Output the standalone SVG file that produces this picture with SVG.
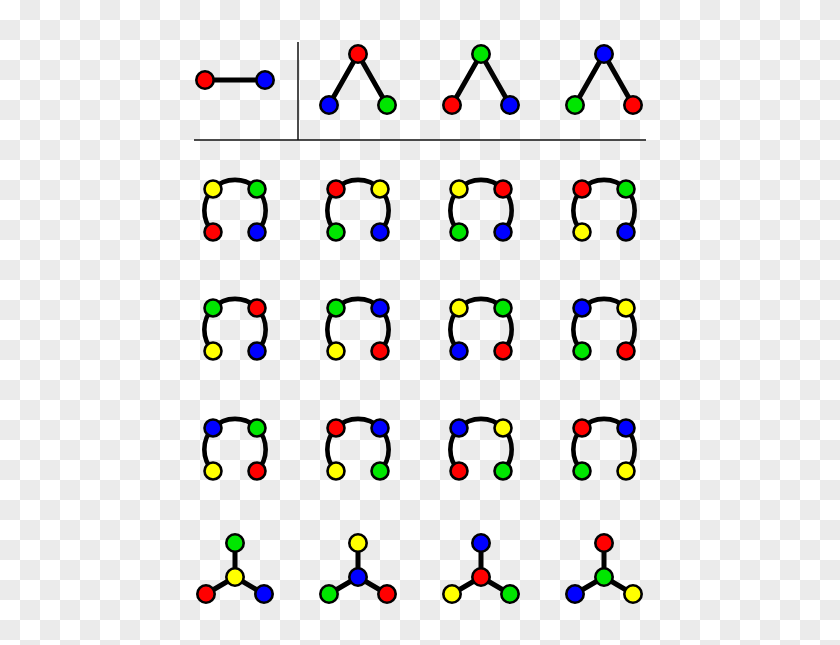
<svg xmlns="http://www.w3.org/2000/svg" xmlns:xlink="http://www.w3.org/1999/xlink" width="840" height="645" viewBox="0 0 840 645">
<defs>
<pattern id="checker" width="40" height="40" patternUnits="userSpaceOnUse">
<rect width="40" height="40" fill="#ffffff"/>
<rect x="20" y="0" width="20" height="20" fill="#ebebeb"/>
<rect x="0" y="20" width="20" height="20" fill="#ebebeb"/>
</pattern>
<path id="ring" d="M -22 21.5 A 31 31 0 0 1 -22 -21.5 A 31 31 0 0 1 22 -21.5 A 31 31 0 0 1 22 21.5"/>
</defs>
<style>
.n{stroke:#000;stroke-width:2.6}
.r{fill:#ff0000}.b{fill:#0000ff}.g{fill:#00e600}.y{fill:#ffff00}
.e{stroke:#000;stroke-width:5;fill:none;stroke-linecap:round}
.a{stroke:#000;stroke-width:4.6;fill:none}
.rule{stroke:#111;stroke-width:1.5}
</style>
<rect width="840" height="645" fill="url(#checker)"/>
<g id="rules">
<line class="rule" x1="298" y1="42" x2="298" y2="140"/>
<line class="rule" x1="194" y1="140" x2="646" y2="140"/>
</g>
<g id="connectors">
<line class="e" x1="205" y1="80" x2="265" y2="80"/>
<path class="e" d="M329 105 L358 54 L387 105"/>
<path class="e" d="M452 105 L481 54 L510 105"/>
<path class="e" d="M575 105 L604 54 L633 105"/>
<use href="#ring" class="a" transform="translate(235,210.5)"/>
<use href="#ring" class="a" transform="translate(358,210.5)"/>
<use href="#ring" class="a" transform="translate(481,210.5)"/>
<use href="#ring" class="a" transform="translate(604,210.5)"/>
<use href="#ring" class="a" transform="translate(235,329.5)"/>
<use href="#ring" class="a" transform="translate(358,329.5)"/>
<use href="#ring" class="a" transform="translate(481,329.5)"/>
<use href="#ring" class="a" transform="translate(604,329.5)"/>
<use href="#ring" class="a" transform="translate(235,449.5)"/>
<use href="#ring" class="a" transform="translate(358,449.5)"/>
<use href="#ring" class="a" transform="translate(481,449.5)"/>
<use href="#ring" class="a" transform="translate(604,449.5)"/>
<path class="e" d="M235 543 L235 577 M206 594 L235 577 L264 594"/>
<path class="e" d="M358 543 L358 577 M329 594 L358 577 L387 594"/>
<path class="e" d="M481 543 L481 577 M452 594 L481 577 L510 594"/>
<path class="e" d="M604 543 L604 577 M575 594 L604 577 L633 594"/>
</g>
<g id="edge-graph">
<circle class="n r" cx="205" cy="80" r="8.7"/>
<circle class="n b" cx="265" cy="80" r="8.7"/>
</g>
<g id="tri1">
<circle class="n r" cx="358" cy="54" r="8.7"/>
<circle class="n b" cx="329" cy="105" r="8.7"/>
<circle class="n g" cx="387" cy="105" r="8.7"/>
</g>
<g id="tri2">
<circle class="n g" cx="481" cy="54" r="8.7"/>
<circle class="n r" cx="452" cy="105" r="8.7"/>
<circle class="n b" cx="510" cy="105" r="8.7"/>
</g>
<g id="tri3">
<circle class="n b" cx="604" cy="54" r="8.7"/>
<circle class="n g" cx="575" cy="105" r="8.7"/>
<circle class="n r" cx="633" cy="105" r="8.7"/>
</g>
<!-- row 1 -->
<g id="r1c1">
<circle class="n y" cx="213" cy="189" r="8.5"/><circle class="n g" cx="257" cy="189" r="8.5"/>
<circle class="n r" cx="213" cy="232" r="8.5"/><circle class="n b" cx="257" cy="232" r="8.5"/>
</g>
<g id="r1c2">
<circle class="n r" cx="336" cy="189" r="8.5"/><circle class="n y" cx="380" cy="189" r="8.5"/>
<circle class="n g" cx="336" cy="232" r="8.5"/><circle class="n b" cx="380" cy="232" r="8.5"/>
</g>
<g id="r1c3">
<circle class="n y" cx="459" cy="189" r="8.5"/><circle class="n r" cx="503" cy="189" r="8.5"/>
<circle class="n g" cx="459" cy="232" r="8.5"/><circle class="n b" cx="503" cy="232" r="8.5"/>
</g>
<g id="r1c4">
<circle class="n r" cx="582" cy="189" r="8.5"/><circle class="n g" cx="626" cy="189" r="8.5"/>
<circle class="n y" cx="582" cy="232" r="8.5"/><circle class="n b" cx="626" cy="232" r="8.5"/>
</g>
<!-- row 2 -->
<g id="r2c1">
<circle class="n g" cx="213" cy="308" r="8.5"/><circle class="n r" cx="257" cy="308" r="8.5"/>
<circle class="n y" cx="213" cy="351" r="8.5"/><circle class="n b" cx="257" cy="351" r="8.5"/>
</g>
<g id="r2c2">
<circle class="n g" cx="336" cy="308" r="8.5"/><circle class="n b" cx="380" cy="308" r="8.5"/>
<circle class="n y" cx="336" cy="351" r="8.5"/><circle class="n r" cx="380" cy="351" r="8.5"/>
</g>
<g id="r2c3">
<circle class="n y" cx="459" cy="308" r="8.5"/><circle class="n g" cx="503" cy="308" r="8.5"/>
<circle class="n b" cx="459" cy="351" r="8.5"/><circle class="n r" cx="503" cy="351" r="8.5"/>
</g>
<g id="r2c4">
<circle class="n b" cx="582" cy="308" r="8.5"/><circle class="n y" cx="626" cy="308" r="8.5"/>
<circle class="n g" cx="582" cy="351" r="8.5"/><circle class="n r" cx="626" cy="351" r="8.5"/>
</g>
<!-- row 3 -->
<g id="r3c1">
<circle class="n b" cx="213" cy="428" r="8.5"/><circle class="n g" cx="257" cy="428" r="8.5"/>
<circle class="n y" cx="213" cy="471" r="8.5"/><circle class="n r" cx="257" cy="471" r="8.5"/>
</g>
<g id="r3c2">
<circle class="n r" cx="336" cy="428" r="8.5"/><circle class="n b" cx="380" cy="428" r="8.5"/>
<circle class="n y" cx="336" cy="471" r="8.5"/><circle class="n g" cx="380" cy="471" r="8.5"/>
</g>
<g id="r3c3">
<circle class="n b" cx="459" cy="428" r="8.5"/><circle class="n y" cx="503" cy="428" r="8.5"/>
<circle class="n r" cx="459" cy="471" r="8.5"/><circle class="n g" cx="503" cy="471" r="8.5"/>
</g>
<g id="r3c4">
<circle class="n r" cx="582" cy="428" r="8.5"/><circle class="n b" cx="626" cy="428" r="8.5"/>
<circle class="n g" cx="582" cy="471" r="8.5"/><circle class="n y" cx="626" cy="471" r="8.5"/>
</g>
<!-- row 4 trees -->
<g id="tree1">
<circle class="n g" cx="235" cy="543" r="8.7"/><circle class="n y" cx="235" cy="577" r="8.7"/>
<circle class="n r" cx="206" cy="594" r="8.7"/><circle class="n b" cx="264" cy="594" r="8.7"/>
</g>
<g id="tree2">
<circle class="n y" cx="358" cy="543" r="8.7"/><circle class="n b" cx="358" cy="577" r="8.7"/>
<circle class="n g" cx="329" cy="594" r="8.7"/><circle class="n r" cx="387" cy="594" r="8.7"/>
</g>
<g id="tree3">
<circle class="n b" cx="481" cy="543" r="8.7"/><circle class="n r" cx="481" cy="577" r="8.7"/>
<circle class="n y" cx="452" cy="594" r="8.7"/><circle class="n g" cx="510" cy="594" r="8.7"/>
</g>
<g id="tree4">
<circle class="n r" cx="604" cy="543" r="8.7"/><circle class="n g" cx="604" cy="577" r="8.7"/>
<circle class="n b" cx="575" cy="594" r="8.7"/><circle class="n y" cx="633" cy="594" r="8.7"/>
</g>
</svg>
